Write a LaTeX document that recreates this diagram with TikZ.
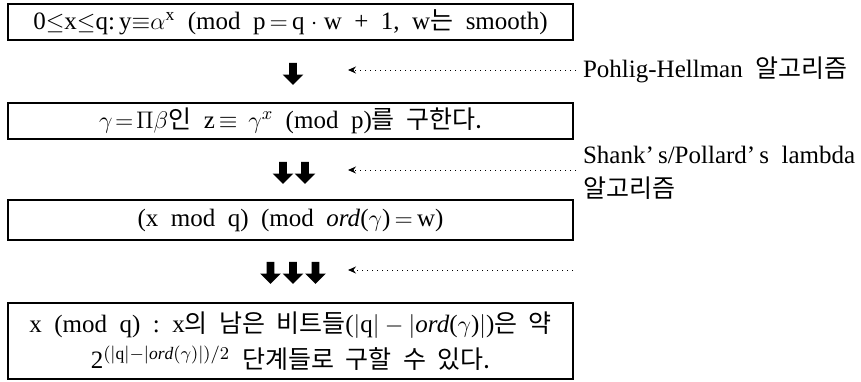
\documentclass[tikz,border=0pt]{standalone}
\usepackage{fontspec}
\setmainfont{Liberation Serif}
\newfontfamily\kr{Noto Sans CJK KR}
\usetikzlibrary{shapes.arrows,arrows.meta}

\begin{document}
\begin{tikzpicture}[x=0.5pt, y=-0.5pt,
  every node/.style={font=\fontsize{12.5}{15}\selectfont},
  stepbox/.style={draw, line width=0.7pt, minimum width=282.5pt, inner sep=0pt, align=center},
  blockarrow/.style={single arrow, fill=black, shape border rotate=270, minimum height=11pt,
    inner sep=1.75pt, single arrow head extend=3.25pt},
  hint/.style={dotted, line width=0.5pt, -{Stealth[length=4pt, width=3.5pt]}}]
  \useasboundingbox (0,0) rectangle (861,381);

  \node[stepbox, minimum height=18pt] (setup) at (290.5,22)
  {0$\leq$x$\leq$q:\,y$\equiv$$\alpha^{\mathrm{x}}$\ \ (mod\ \ p\,$=$\,q $\cdot$ w\ \ +\ \ 1,\ \ w{\kr 는}\ \ smooth)};

  \node[stepbox, minimum height=18pt] (reduce) at (290.5,121)
  {$\gamma\!=\!\Pi\beta${\kr 인}\ \ z$\,\equiv\,\gamma^{x}$\ \ (mod\ \ p){\kr 를\ \ 구한다.}};

  \node[stepbox, minimum height=20pt] (subgroup) at (290.5,220)
  {(x\ \ mod\ \ q)\ \ (mod\ \ \textit{ord}($\gamma$)\,$=$\,w)};

  \node[stepbox, minimum height=38pt] (rest) at (290.5,341)
  {x\ \ (mod\ \ q)\ \ :\ \ x{\kr 의\ \ 남은\ \ 비트들}($|$q$|-|$\textit{ord}($\gamma$)$|$){\kr 은\ \ 약}\\[3pt]
   2$^{(|\mathrm{q}|-|\mathit{ord}(\gamma)|)/2}$\ \ {\kr 단계들로\ \ 구할\ \ 수\ \ 있다.}};

  % block arrows between the steps
  \node[blockarrow] (a1) at (293,72) {};
  \node[blockarrow] (b1) at (283,171) {};
  \node[blockarrow] (b2) at (305,171) {};
  \node[blockarrow] (c1) at (270.5,271) {};
  \node[blockarrow] (c2) at (293,271) {};
  \node[blockarrow] (c3) at (315.5,271) {};

  % methods on the right
  \node[anchor=west] (ph) at (576,70) {Pohlig-Hellman\ \ {\kr 알고리즘}};
  \node[anchor=west, align=left] (lambda) at (576,173)
  {Shank’\,s/Pollard’\,s\ \ lambda\\[2pt]{\kr 알고리즘}};

  \coordinate (t1) at (348,70);
  \coordinate (t2) at (348,170);
  \coordinate (t3) at (348,270);
  \coordinate (e3) at (573,270);

  \draw[hint] (ph.west) -- (t1);
  \draw[hint] (lambda.west |- t2) -- (t2);
  \draw[hint] (e3) -- (t3);
\end{tikzpicture}
\end{document}
